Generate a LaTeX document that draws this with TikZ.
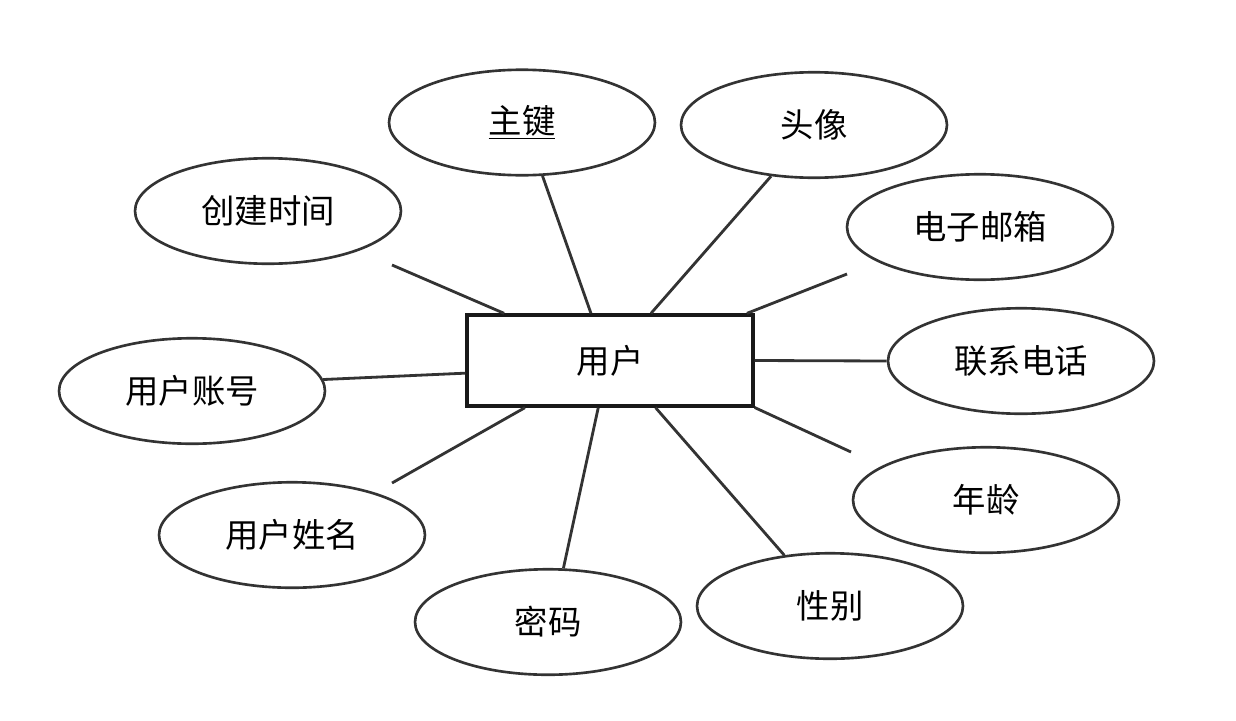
\documentclass[tikz,border=0pt]{standalone}
\usepackage{fontspec}
\newfontfamily\cjk{Noto Sans CJK SC}
\usetikzlibrary{shapes.geometric}

\begin{document}
\begin{tikzpicture}[
  x=0.02cm, y=-0.02cm,
  entity/.style = {rectangle, draw=black!90, line width=1.9pt, fill=white,
                   minimum width=5.72cm, minimum height=1.82cm,
                   font=\cjk\fontsize{19}{22}\selectfont},
  attr/.style   = {ellipse, draw=black!80, line width=1.5pt, fill=white,
                   minimum width=5.32cm, minimum height=2.11cm, inner sep=0pt,
                   font=\cjk\fontsize{19}{22}\selectfont},
  link/.style   = {black!80, line width=1.6pt}
]
\useasboundingbox (0,0) rectangle (1236,720);

%% Entity
\node[entity] (user) at (610,360.5) {用户};

%% Attributes, top
\node[attr] (pk)     at (522,122.5) {\underline{主键}};
\node[attr] (avatar) at (814,125)   {头像};
\node[attr] (ctime)  at (268,211)   {创建时间};
\node[attr] (email)  at (980,227)   {电子邮箱};

%% Attributes, sides
\node[attr] (phone)   at (1021,361) {联系电话};
\node[attr] (account) at (192,391)  {用户账号};

%% Attributes, bottom
\node[attr] (age)    at (986,500)  {年龄};
\node[attr] (uname)  at (292,535)  {用户姓名};
\node[attr] (pwd)    at (548,622)  {密码};
\node[attr] (gender) at (830,606)  {性别};

%% Free line ends
\coordinate (ctimeEnd) at (392,265);
\coordinate (emailEnd) at (847,274);
\coordinate (ageEnd)   at (851,452);
\coordinate (unameEnd) at (392,483);

%% Links
\draw[link] (pk.291)      -- (user.112);
\draw[link] (avatar.230)  -- (user.49);
\draw[link] (ctimeEnd)    -- (user.156);
\draw[link] (emailEnd)    -- (user.19);
\draw[link] (phone.west)  -- (user.0);
\draw[link] (account.5)   -- (user.185);
\draw[link] (ageEnd)      -- (user.342);
\draw[link] (unameEnd)    -- (user.209);
\draw[link] (pwd.74)      -- (user.256);
\draw[link] (gender.132)  -- (user.314);
\end{tikzpicture}
\end{document}
